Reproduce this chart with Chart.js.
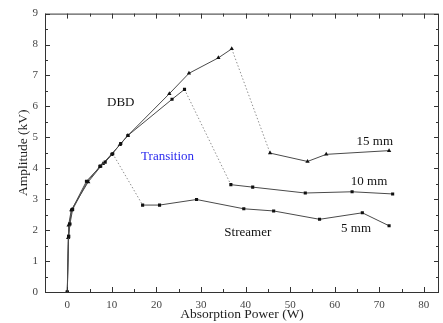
<!DOCTYPE html>
<html>
<head>
<meta charset="utf-8">
<script src="https://cdn.jsdelivr.net/npm/chart.js@4/dist/chart.umd.min.js"></script>
<style>
  html, body { margin: 0; padding: 0; background: #fff; }
  #wrap { width: 443px; height: 323px; position: relative; }
</style>
</head>
<body>
<div id="wrap"><canvas id="ampChart"></canvas></div>
<script>
// absorption power (W) and discharge amplitude (kV) for each gap
var power5 = [0, 0.3, 0.6, 1.2, 4.5, 7.3, 8.5, 10.2, 16.9, 20.7, 29.0, 39.6, 46.3, 56.6, 66.2, 72.2];
var amp5 = [0, 1.8, 2.2, 2.67, 3.57, 4.06, 4.2, 4.47, 2.81, 2.81, 2.99, 2.69, 2.62, 2.35, 2.56, 2.14];
var jump5 = 8;

var power10 = [0, 0.3, 0.5, 1.0, 4.3, 7.5, 10.0, 12.0, 13.6, 23.5, 26.3, 36.7, 41.6, 53.4, 63.9, 73.0];
var amp10 = [0, 1.8, 2.2, 2.65, 3.58, 4.07, 4.45, 4.8, 5.06, 6.23, 6.55, 3.47, 3.39, 3.2, 3.24, 3.17];
var jump10 = 11;

var power15 = [0, 0.2, 0.3, 0.9, 4.7, 8.0, 11.8, 13.6, 22.9, 27.3, 33.9, 36.9, 45.5, 53.9, 58.1, 72.2];
var amp15 = [0, 1.75, 2.16, 2.65, 3.56, 4.15, 4.76, 5.06, 6.41, 7.07, 7.57, 7.86, 4.49, 4.22, 4.45, 4.57];
var jump15 = 12;

var xTicks = [0, 10, 20, 30, 40, 50, 60, 70, 80];
var yTicks = [0, 1, 2, 3, 4, 5, 6, 7, 8, 9];

// text notes placed in data units
var notes = [
  { text: "DBD", x: 12.0, y: 6.13, color: "#111" },
  { text: "Transition", x: 22.5, y: 4.39, color: "#2b2bee" },
  { text: "Streamer", x: 40.5, y: 1.92, color: "#111" },
  { text: "15 mm", x: 69.0, y: 4.87, color: "#111" },
  { text: "10 mm", x: 67.7, y: 3.58, color: "#111" },
  { text: "5 mm", x: 64.8, y: 2.06, color: "#111" }
];

var serif = "'Liberation Serif', 'Times New Roman', serif";

function toPoints(xs, ys) {
  return xs.map(function (x, i) { return { x: x, y: ys[i] }; });
}

function series(label, xs, ys, jump, marker, size) {
  return {
    label: label,
    data: toPoints(xs, ys),
    borderColor: "#4a4a4a",
    borderWidth: 1,
    pointStyle: marker,
    pointRadius: size,
    pointBackgroundColor: "#111",
    pointBorderColor: "#111",
    pointBorderWidth: 0,
    tension: 0,
    fill: false,
    segment: {
      borderDash: function (ctx) { return ctx.p1DataIndex === jump ? [1.5, 2] : undefined; },
      borderColor: function (ctx) { return ctx.p1DataIndex === jump ? "#909090" : undefined; }
    }
  };
}

// boxed frame with inward major and minor ticks on all four sides
var framePlugin = {
  id: "frame",
  afterDatasetsDraw: function (chart) {
    var c = chart.ctx, a = chart.chartArea;
    var xs = chart.scales.x, ys = chart.scales.y;
    c.save();
    c.strokeStyle = "#333";
    c.lineWidth = 1;
    c.strokeRect(a.left + 0.5, a.top + 0.5, a.right - a.left - 1, a.bottom - a.top);
    c.beginPath();
    for (var v = -5; v <= xs.max; v += 5) {
      var px = Math.round(xs.getPixelForValue(v)) + 0.5;
      var len = v % 10 === 0 ? 5 : 3;
      c.moveTo(px, a.bottom); c.lineTo(px, a.bottom - len);
      c.moveTo(px, a.top); c.lineTo(px, a.top + len);
    }
    for (var w = 0; w <= 9; w += 0.5) {
      var py = Math.round(ys.getPixelForValue(w)) + 0.5;
      var l2 = w % 1 === 0 ? 5 : 3;
      c.moveTo(a.left, py); c.lineTo(a.left + l2, py);
      c.moveTo(a.right, py); c.lineTo(a.right - l2, py);
    }
    c.stroke();

    c.font = "13px " + serif;
    c.textAlign = "center";
    c.textBaseline = "middle";
    notes.forEach(function (n) {
      c.fillStyle = n.color;
      c.fillText(n.text, xs.getPixelForValue(n.x), ys.getPixelForValue(n.y));
    });
    c.restore();
  }
};

new Chart(document.getElementById("ampChart"), {
  type: "line",
  data: {
    datasets: [
      series("5 mm", power5, amp5, jump5, "rect", 2.2),
      series("10 mm", power10, amp10, jump10, "rect", 2.2),
      series("15 mm", power15, amp15, jump15, "triangle", 2.5)
    ]
  },
  options: {
    responsive: true,
    maintainAspectRatio: false,
    animation: false,
    layout: { padding: { top: 13, right: 1, left: 0, bottom: 0 } },
    plugins: { legend: { display: false }, tooltip: { enabled: false } },
    scales: {
      x: {
        type: "linear",
        min: -5,
        max: 83.4,
        afterBuildTicks: function (s) { s.ticks = xTicks.map(function (v) { return { value: v }; }); },
        afterFit: function (s) { s.height = 31; },
        grid: { display: false, drawTicks: false },
        border: { display: false },
        ticks: { padding: 7, color: "#444", font: { family: serif, size: 11 }, maxRotation: 0 },
        title: { display: true, text: "Absorption Power (W)", color: "#222", font: { family: serif, size: 13.5 }, padding: { top: 0, bottom: 0 } }
      },
      y: {
        type: "linear",
        min: 0,
        max: 9,
        afterBuildTicks: function (s) { s.ticks = yTicks.map(function (v) { return { value: v }; }); },
        afterFit: function (s) { s.width = 45; },
        grid: { display: false, drawTicks: false },
        border: { display: false },
        ticks: { padding: 7, color: "#444", font: { family: serif, size: 11 } },
        title: { display: true, text: "Amplitude (kV)", color: "#222", font: { family: serif, size: 13.5 }, padding: { top: 15, bottom: 0 } }
      }
    }
  },
  plugins: [framePlugin]
});
</script>
</body>
</html>
